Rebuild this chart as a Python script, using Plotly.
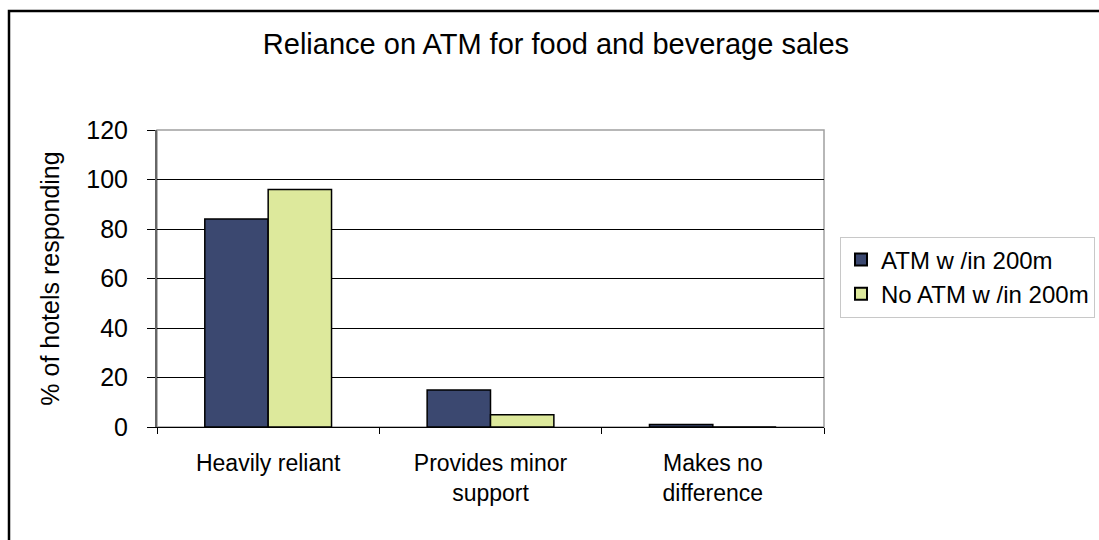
import plotly.graph_objects as go

categories = ["Heavily reliant", "Provides minor<br>support", "Makes no<br>difference"]
series_names = ["ATM w /in 200m", "No ATM w /in 200m"]
atm_within = [84, 15, 1]
no_atm_within = [96, 5, 0]
y_ticks = [0, 20, 40, 60, 80, 100, 120]

W, H = 1099, 540
L, R, T, B = 157, 275, 130, 113
pw, ph = W - L - R, H - T - B

fig = go.Figure()
fig.add_trace(go.Bar(x=categories, y=atm_within, name=series_names[0],
                     marker=dict(color="#3b4870", line=dict(color="black", width=1.5))))
fig.add_trace(go.Bar(x=categories, y=no_atm_within, name=series_names[1],
                     marker=dict(color="#dde99c", line=dict(color="black", width=1.5))))

font = "Liberation Sans, Arial, sans-serif"
fig.update_layout(
    width=W, height=H,
    margin=dict(l=L, r=R, t=T, b=B, autoexpand=False),
    paper_bgcolor="white", plot_bgcolor="white",
    barmode="group", bargap=0.43, bargroupgap=0,
    font=dict(family=font, color="black", size=23),
    title=dict(text="Reliance on ATM for food and beverage sales", x=556 / W, xanchor="center",
               y=1 - 44 / H, yanchor="middle", font=dict(size=29, family=font)),
    showlegend=True,
    legend=dict(x=(840 - L) / pw, y=(427 - 277) / ph, xanchor="left", yanchor="middle",
                bordercolor="#c8c8c8", borderwidth=1, bgcolor="white",
                font=dict(size=24, family=font), itemsizing="constant",
                tracegroupgap=0),
    xaxis=dict(showgrid=False, showline=True, linecolor="black", linewidth=1,
               ticks="outside", tickson="boundaries", ticklen=6, tickcolor="black",
               tickfont=dict(size=23), ticklabelstandoff=15, mirror=False),
    yaxis=dict(range=[0, 120], tickvals=y_ticks, showgrid=True, gridcolor="black", gridwidth=1,
               showline=True, linecolor="#666666", linewidth=2, ticks="outside", ticklen=8,
               tickcolor="black", tickfont=dict(size=25), ticklabelstandoff=14,
               title=dict(text="% of hotels responding", font=dict(size=25), standoff=20),
               zeroline=False),
)
# plot area border (gray)
fig.add_shape(type="rect", xref="paper", yref="paper", x0=0, x1=1, y0=0, y1=1,
              line=dict(color="#a0a0a0", width=1.5), layer="below")
# outer chart border (only top/left visible in frame)
fig.add_shape(type="rect", xref="paper", yref="paper",
              x0=-(L - 9) / pw, x1=1 + (R + 20) / pw, y0=-(B + 20) / ph, y1=1 + (T - 11) / ph,
              line=dict(color="black", width=2.5))

fig.write_html("out.html", config={"displayModeBar": False},
               post_script="document.body.style.margin='0';")
